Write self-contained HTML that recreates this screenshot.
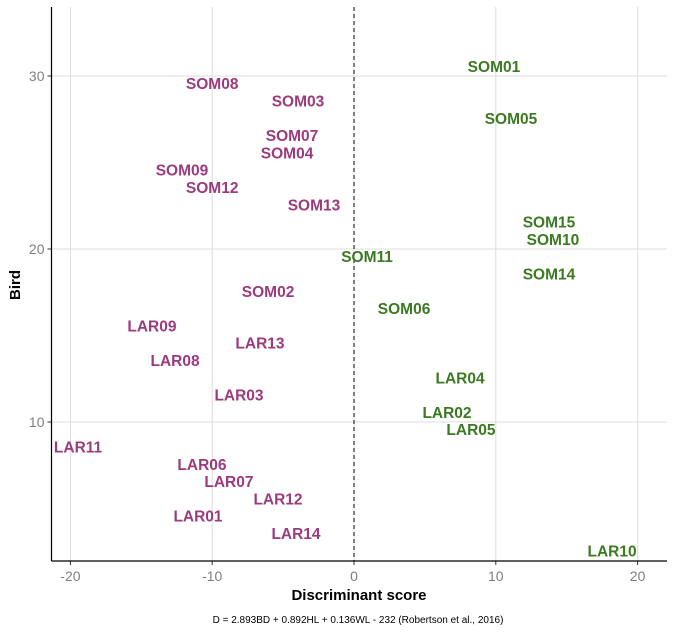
<!DOCTYPE html>
<html><head><meta charset="utf-8"><style>
html,body{margin:0;padding:0;background:#fff;}
svg{display:block;font-family:"Liberation Sans",Arial,sans-serif;}
</style></head><body>
<svg id="chart" width="675" height="642">
<g id="grid"></g>
<g id="axes"></g>
<g id="labels"></g>
<text x="359" y="600" text-anchor="middle" font-size="15" font-weight="bold">Discriminant score</text>
<text transform="translate(20,285) rotate(-90)" text-anchor="middle" font-size="15" font-weight="bold">Bird</text>
<text x="358" y="623" text-anchor="middle" font-size="10">D = 2.893BD + 0.892HL + 0.136WL - 232 (Robertson et al., 2016)</text>
</svg>
<script>
const birds=["SOM01","SOM08","SOM03","SOM05","SOM07","SOM04","SOM09","SOM12","SOM13","SOM15","SOM10","SOM11","SOM14","SOM02","SOM06","LAR09","LAR13","LAR08","LAR04","LAR03","LAR02","LAR05","LAR11","LAR06","LAR07","LAR12","LAR01","LAR14","LAR10"];
const scores=[9.87,-10.0,-3.95,11.07,-4.37,-4.72,-12.13,-10.0,-2.82,13.75,14.03,0.92,13.75,-6.06,3.53,-14.25,-6.63,-12.62,7.48,-8.11,6.56,8.25,-19.46,-10.72,-8.82,-5.36,-11.0,-4.09,18.2];
const ranks=[30,29,28,27,26,25,24,23,22,21,20,19,18,17,16,15,14,13,12,11,10,9,8,7,6,5,4,3,2];
const xTicks=[-20,-10,0,10,20];
const yTicks=[10,20,30];
const NS="http://www.w3.org/2000/svg";
const L=51.5,R=667,T=7,B=561;
function xs(v){return 354+v*14.18;}
function ys(v){return 249-(v-20)*17.3;}
function mk(tag,attrs,parent){const e=document.createElementNS(NS,tag);for(const k in attrs)e.setAttribute(k,attrs[k]);parent.appendChild(e);return e;}
const grid=document.getElementById('grid'),axes=document.getElementById('axes'),lab=document.getElementById('labels');
xTicks.forEach(t=>{
 const g=mk('line',{x1:xs(t),x2:xs(t),y1:T,y2:B,stroke:'#dcdcdc','stroke-width':1},grid);
 
 
 const tk=mk('line',{x1:xs(t),x2:xs(t),y1:B,y2:B+4,stroke:'#333','stroke-width':1},axes);
 
 
 const tx=mk('text',{x:xs(t),y:B+20,'text-anchor':'middle','font-size':14,fill:'#7f7f7f'},axes);
 tx.textContent=t;
 
 
});
yTicks.forEach(t=>{
 const g=mk('line',{x1:L,x2:R,y1:ys(t),y2:ys(t),stroke:'#dcdcdc','stroke-width':1},grid);
 
 
 const tk=mk('line',{x1:L-4,x2:L,y1:ys(t),y2:ys(t),stroke:'#333','stroke-width':1},axes);
 
 
 const tx=mk('text',{x:L-7,y:ys(t)+5,'text-anchor':'end','font-size':14,fill:'#7f7f7f'},axes);
 tx.textContent=t;
 
 
});
const zl=mk('line',{x1:xs(0),x2:xs(0),y1:T,y2:B,stroke:'#000','stroke-width':1,'stroke-dasharray':'4,3'},axes);


const ya=mk('line',{x1:L,x2:L,y1:T,y2:B,stroke:'#000','stroke-width':1.2},axes);


const xa=mk('line',{x1:L,x2:R,y1:B,y2:B,stroke:'#000','stroke-width':1.2},axes);


birds.forEach((b,i)=>{
 const s=scores[i];
 const t=mk('text',{x:xs(s),y:ys(ranks[i]+0.5)+4.5,'text-anchor':'middle','font-size':15.5,'font-weight':'bold',fill:s<0?'#9c3a7e':'#3c7a22'},lab);
 t.textContent=b;
 
 
});
</script>
</body></html>
